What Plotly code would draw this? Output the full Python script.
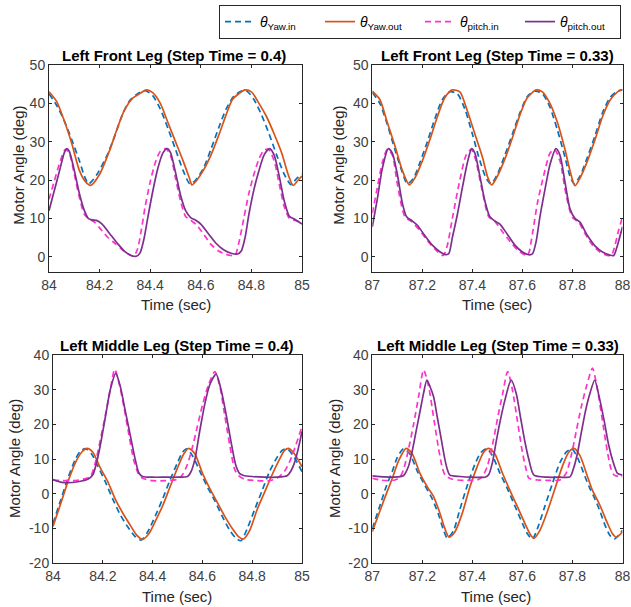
import plotly.graph_objects as go
from plotly.subplots import make_subplots

# ---- Left Front Leg, step time 0.4 ----
tl_yaw_in_t = [84.0, 84.03, 84.06, 84.09, 84.12, 84.14, 84.157, 84.19, 84.23, 84.26, 84.29, 84.32, 84.35, 84.38,
               84.41, 84.44, 84.47, 84.50, 84.53, 84.557, 84.58, 84.61, 84.64, 84.67, 84.70, 84.73, 84.76, 84.78,
               84.81, 84.84, 84.87, 84.90, 84.93, 84.957, 84.98, 85.0]
tl_yaw_in = [42.5, 39.5, 35.5, 30.5, 25, 21, 19, 21.5, 26.5, 31.5, 37, 40.8, 42.5, 43.3,
             42, 38.5, 33.5, 28, 22.5, 19, 20, 23, 28, 33.5, 38.5, 41.8, 43.2, 43.3,
             41, 37, 32, 26.5, 21.5, 18.8, 20.5, 21.5]
tl_yaw_out_t = [84.0, 84.03, 84.06, 84.09, 84.12, 84.145, 84.165, 84.2, 84.24, 84.27, 84.30, 84.33, 84.36, 84.385,
                84.41, 84.44, 84.47, 84.50, 84.53, 84.555, 84.565, 84.585, 84.61, 84.64, 84.67, 84.70, 84.725,
                84.75, 84.775, 84.80, 84.83, 84.86, 84.89, 84.92, 84.945, 84.965, 84.985, 85.0]
tl_yaw_out = [43, 40.5, 35.5, 29.5, 22.5, 19.5, 18.6, 21.5, 27.8, 33.5, 38.5, 41.3, 42.6, 43.5,
              42.8, 40, 35, 30, 25, 20.5, 18.7, 20, 22.5, 26.5, 31.5, 37, 41,
              42.5, 43.5, 43, 40, 36.5, 32, 27, 21.5, 18.6, 20, 21]
tl_pitch_in_t = [84.0, 84.02, 84.04, 84.065, 84.08, 84.10, 84.12, 84.14, 84.16, 84.18, 84.20, 84.23, 84.26, 84.29,
                 84.315, 84.335, 84.35, 84.365, 84.38, 84.40, 84.42, 84.44, 84.462, 84.48, 84.50, 84.52, 84.54,
                 84.56, 84.58, 84.61, 84.64, 84.67, 84.70, 84.72, 84.735, 84.75, 84.77, 84.79, 84.81, 84.83,
                 84.85, 84.868, 84.89, 84.91, 84.93, 84.95, 84.97, 85.0]
tl_pitch_in = [15, 19.5, 24, 28, 27, 21.5, 15.5, 11, 9.8, 9, 7.5, 5.2, 3.5, 1.8,
               0.6, 0.1, 2, 7, 13, 19.5, 24.5, 27.5, 28.2, 26.5, 20.5, 14.5, 10.5,
               9.5, 8.5, 6, 3.2, 1.5, 0.6, 0.3, 0.3, 3.5, 10, 16.5, 21.5, 25.5,
               27.8, 28, 25, 19, 13, 10, 9.5, 8.8]
tl_pitch_out_t = [84.0, 84.02, 84.04, 84.06, 84.07, 84.08, 84.10, 84.12, 84.14, 84.155, 84.17, 84.19, 84.21, 84.24,
                  84.27, 84.30, 84.325, 84.345, 84.36, 84.375, 84.39, 84.41, 84.43, 84.45, 84.467, 84.48, 84.50,
                  84.52, 84.54, 84.56, 84.58, 84.60, 84.63, 84.66, 84.69, 84.72, 84.745, 84.76, 84.775, 84.79,
                  84.81, 84.83, 84.85, 84.872, 84.89, 84.91, 84.93, 84.95, 84.97, 85.0]
tl_pitch_out = [12, 17, 22, 27, 28.2, 27.5, 22.5, 16.5, 12, 10, 9.6, 9.4, 8.5, 6,
                3.5, 1.3, 0.3, 0.1, 1, 4.5, 10, 17, 23, 27, 28.2, 27.2, 22,
                16, 12, 10.2, 9.5, 8.5, 6, 3.5, 1.8, 0.9, 0.7, 1.5, 5, 11,
                17.5, 22.5, 26.5, 28.2, 26.5, 21, 14.5, 10.5, 9.8, 8.5]

# ---- Left Front Leg, step time 0.33 ----
tr_yaw_in_t = [87.0, 87.03, 87.06, 87.09, 87.12, 87.14, 87.165, 87.19, 87.22, 87.25, 87.28, 87.31, 87.34, 87.37,
               87.40, 87.43, 87.455, 87.475, 87.50, 87.53, 87.56, 87.59, 87.62, 87.65, 87.68, 87.71, 87.74,
               87.77, 87.79, 87.807, 87.83, 87.86, 87.89, 87.92, 87.95, 87.98, 88.0]
tr_yaw_in = [42.8, 40, 34.5, 28, 22, 19, 20.5, 24.5, 30, 36, 41, 43, 42.5, 38.5,
             32, 25, 20.5, 19, 21.5, 26.5, 32, 37.5, 41.8, 43.2, 42.5, 39, 33,
             26, 21, 19, 21, 26, 31.5, 37.5, 41.5, 43.2, 43.5]
tr_yaw_out_t = [87.0, 87.03, 87.06, 87.09, 87.12, 87.148, 87.17, 87.20, 87.23, 87.26, 87.29, 87.32, 87.35, 87.38,
                87.41, 87.44, 87.46, 87.477, 87.50, 87.53, 87.56, 87.59, 87.62, 87.655, 87.68, 87.71, 87.74,
                87.77, 87.79, 87.81, 87.83, 87.86, 87.89, 87.92, 87.95, 87.98, 88.0]
tr_yaw_out = [43.2, 41, 35, 29, 22.5, 18.7, 20.5, 25, 30.5, 36.5, 41.5, 43.5, 43, 38,
              32, 26, 21, 18.7, 21, 25.5, 31, 37, 41.5, 43.5, 43, 40, 35,
              28, 22.5, 18.5, 20.5, 25, 30.5, 36.5, 40.8, 43, 43.6]
tr_pitch_in_t = [87.0, 87.02, 87.04, 87.06, 87.08, 87.10, 87.13, 87.16, 87.19, 87.22, 87.25, 87.283, 87.30, 87.32,
                 87.35, 87.375, 87.395, 87.41, 87.44, 87.465, 87.49, 87.52, 87.55, 87.58, 87.62, 87.64, 87.66,
                 87.69, 87.71, 87.728, 87.75, 87.775, 87.80, 87.825, 87.85, 87.88, 87.91, 87.935, 87.955, 87.97,
                 87.985, 88.0]
tr_pitch_in = [11.3, 18, 24.5, 28, 26.5, 19, 10.5, 9, 6.8, 4.2, 2, 0.3, 3, 10,
               20, 26.5, 28, 26, 17, 10.5, 9.2, 6.5, 4, 1.8, 0.3, 6, 14,
               22.5, 27, 28, 25, 16, 10.2, 9, 6, 3, 1.2, 0.4, 0.3, 3,
               7, 10.3]
tr_pitch_out_t = [87.0, 87.02, 87.04, 87.064, 87.08, 87.10, 87.12, 87.137, 87.16, 87.18, 87.21, 87.24, 87.27, 87.29,
                  87.305, 87.32, 87.34, 87.36, 87.38, 87.397, 87.41, 87.43, 87.45, 87.47, 87.49, 87.51, 87.54,
                  87.57, 87.60, 87.625, 87.64, 87.655, 87.67, 87.69, 87.71, 87.734, 87.75, 87.77, 87.79, 87.81,
                  87.83, 87.86, 87.89, 87.92, 87.95, 87.965, 87.98, 88.0]
tr_pitch_out = [7.8, 15, 23, 28.2, 27, 21.5, 14, 10.4, 9.3, 8.2, 5.5, 3, 1.3, 0.6,
                0.7, 5, 11, 18, 24.5, 28.2, 27, 21, 14.5, 10.4, 9.3, 8.5, 5.8,
                3, 1.2, 0.5, 0.7, 4, 10.4, 17.5, 24, 28.2, 26.5, 19.5, 12.5, 10,
                9, 5.5, 2.8, 1.2, 0.4, 0.3, 3, 7.8]

# ---- Left Middle Leg, step time 0.4 ----
bl_yaw_in_t = [84.0, 84.03, 84.06, 84.09, 84.11, 84.13, 84.155, 84.18, 84.21, 84.24, 84.27, 84.30, 84.33, 84.355,
               84.38, 84.41, 84.44, 84.47, 84.50, 84.52, 84.537, 84.56, 84.59, 84.62, 84.65, 84.68, 84.71,
               84.735, 84.755, 84.78, 84.81, 84.84, 84.87, 84.90, 84.92, 84.94, 84.965, 85.0]
bl_yaw_in = [-8.5, -2, 4.5, 10, 12.3, 13, 11.5, 8, 3.5, -1.5, -6, -9.5, -12.3, -13.3,
             -11, -6.5, -1.5, 4, 9, 12, 13, 11, 6.5, 2, -2, -6.5, -10.5,
             -12.8, -13.5, -10, -4.5, 1, 6.5, 10.5, 12.5, 13, 11, 6.4]
bl_yaw_out_t = [84.0, 84.03, 84.06, 84.09, 84.115, 84.137, 84.16, 84.19, 84.22, 84.25, 84.28, 84.31, 84.335, 84.36,
                84.385, 84.41, 84.44, 84.47, 84.50, 84.525, 84.545, 84.57, 84.60, 84.63, 84.66, 84.69, 84.72,
                84.745, 84.765, 84.79, 84.82, 84.85, 84.88, 84.91, 84.93, 84.946, 84.97, 85.0]
bl_yaw_out = [-9.4, -3, 3.5, 9, 12, 13.1, 12, 7.5, 3.5, -1.5, -5.5, -9, -11.8, -13.1,
              -11.5, -8, -3.5, 2, 7.5, 11.5, 13.1, 11.5, 6, 1.5, -2.5, -6.5, -10,
              -12.3, -13, -10.5, -4.5, 0.5, 5.5, 10, 12.5, 13.1, 11.5, 7.8]
bl_pitch_in_t = [84.0, 84.04, 84.08, 84.12, 84.15, 84.17, 84.19, 84.21, 84.23, 84.248, 84.265, 84.285, 84.305, 84.325,
                 84.345, 84.36, 84.40, 84.45, 84.50, 84.52, 84.54, 84.56, 84.58, 84.60, 84.625, 84.65, 84.67,
                 84.69, 84.71, 84.73, 84.745, 84.77, 84.82, 84.87, 84.90, 84.93, 84.955, 84.975, 85.0]
bl_pitch_in = [4, 3.8, 3.8, 4.2, 5, 9, 15.5, 22.5, 30, 35.9, 32, 25, 17, 9.5,
               5.5, 4.5, 3.8, 3.8, 4.2, 5.5, 8.5, 13.5, 19.5, 25.5, 31.5, 35.2, 31,
               22.5, 14, 7, 5.3, 4.2, 3.8, 3.8, 4.5, 6.5, 10, 14, 19.4]
bl_pitch_out_t = [84.0, 84.03, 84.06, 84.10, 84.14, 84.16, 84.175, 84.19, 84.21, 84.23, 84.252, 84.27, 84.29, 84.31,
                  84.33, 84.345, 84.36, 84.40, 84.45, 84.50, 84.54, 84.555, 84.57, 84.59, 84.61, 84.63, 84.655,
                  84.675, 84.695, 84.715, 84.735, 84.75, 84.765, 84.80, 84.85, 84.90, 84.94, 84.955, 84.97,
                  84.985, 85.0]
bl_pitch_out = [4.1, 3.4, 3.2, 3.5, 4.2, 5.5, 9, 14, 22, 30, 34.7, 31, 24, 17,
                10, 6, 5, 4.8, 4.8, 4.8, 5, 6.5, 10, 18.4, 26, 31.5, 34.5,
                30, 23, 15, 8, 5.8, 5.3, 5, 4.8, 4.8, 5.2, 6.5, 9,
                13, 18]

# ---- Left Middle Leg, step time 0.33 ----
br_yaw_in_t = [87.0, 87.03, 87.055, 87.08, 87.10, 87.125, 87.15, 87.18, 87.21, 87.24, 87.265, 87.285, 87.30, 87.325,
               87.35, 87.38, 87.41, 87.435, 87.458, 87.48, 87.51, 87.54, 87.57, 87.60, 87.62, 87.64, 87.66,
               87.69, 87.72, 87.75, 87.775, 87.797, 87.82, 87.85, 87.87, 87.89, 87.91, 87.93, 87.95, 87.967, 88.0]
br_yaw_in = [-10, -3.5, 2, 6.5, 10.5, 13, 11.5, 6.5, 2.5, -1.5, -6, -10.5, -12.8, -10.5,
             -4.5, 2.5, 8.5, 12, 13, 11, 6, 1.5, -3.5, -8.5, -11.5, -13, -10,
             -3.5, 3, 9, 12, 13, 10.5, 5, 1.5, -1.5, -5, -9, -12, -13, -10.5]
br_yaw_out_t = [87.0, 87.03, 87.057, 87.08, 87.105, 87.135, 87.16, 87.19, 87.22, 87.245, 87.27, 87.29, 87.307, 87.33,
                87.36, 87.39, 87.42, 87.445, 87.465, 87.49, 87.52, 87.55, 87.58, 87.61, 87.63, 87.646, 87.67,
                87.70, 87.73, 87.76, 87.785, 87.806, 87.83, 87.86, 87.88, 87.90, 87.92, 87.94, 87.96, 87.975, 88.0]
br_yaw_out = [-10.9, -5, 0.2, 4.5, 9.5, 13.1, 11.5, 6, 2, -0.8, -5.5, -10, -12.5, -11,
              -5.5, 2, 8, 12, 13.1, 11.5, 6, 1, -3.7, -8.5, -11.5, -12.8, -10.5,
              -5, 1.5, 8, 12, 13.1, 11, 5, 1, -1.8, -5, -8.5, -11.5, -12.5, -10.9]
br_pitch_in_t = [87.0, 87.03, 87.06, 87.09, 87.11, 87.125, 87.145, 87.165, 87.185, 87.205, 87.225, 87.245, 87.265,
                 87.28, 87.291, 87.32, 87.37, 87.42, 87.44, 87.46, 87.48, 87.50, 87.52, 87.541, 87.56, 87.58,
                 87.60, 87.615, 87.626, 87.66, 87.71, 87.75, 87.775, 87.795, 87.815, 87.835, 87.858, 87.88,
                 87.90, 87.92, 87.94, 87.955, 87.967, 87.985, 88.0]
br_pitch_in = [4.5, 4, 3.8, 4, 4.8, 7, 13, 20, 28, 35.7, 31, 22, 13,
               7.5, 5.4, 4.2, 3.9, 4, 5, 8, 14, 21.5, 28.5, 35.2, 30, 21,
               12, 7, 4.5, 4, 3.9, 4, 6, 11, 18, 25, 31.5, 36.2,
               30, 21, 12, 7, 5.4, 5, 5]
br_pitch_out_t = [87.0, 87.05, 87.10, 87.124, 87.144, 87.16, 87.175, 87.19, 87.205, 87.218, 87.23, 87.245, 87.26,
                  87.275, 87.29, 87.30, 87.31, 87.35, 87.40, 87.45, 87.465, 87.48, 87.495, 87.512, 87.53, 87.555,
                  87.575, 87.592, 87.61, 87.626, 87.646, 87.70, 87.75, 87.79, 87.805, 87.82, 87.835, 87.853,
                  87.87, 87.889, 87.905, 87.926, 87.945, 87.96, 87.98, 88.0]
br_pitch_out = [5.2, 4.9, 4.9, 5.2, 7.8, 12.5, 18, 23.5, 29, 32.8, 31, 28, 22,
                16, 10, 7, 5.4, 5, 4.8, 4.8, 5.5, 9, 15, 21.3, 27, 32.8,
                29, 22.2, 15, 9.8, 5.4, 4.8, 4.8, 4.9, 7.5, 11.7, 17.5, 24.2,
                29, 32.8, 28.5, 21.3, 14, 9.8, 5.9, 5.4]

titles = ["Left Front Leg (Step Time = 0.4)", "Left Front Leg (Step Time = 0.33)",
          "Left Middle Leg (Step Time = 0.4)", "Left Middle Leg (Step Time = 0.33)"]
x_ticks_a = [84, 84.2, 84.4, 84.6, 84.8, 85]
x_ticks_b = [87, 87.2, 87.4, 87.6, 87.8, 88]
x_labels_a = ["84", "84.2", "84.4", "84.6", "84.8", "85"]
x_labels_b = ["87", "87.2", "87.4", "87.6", "87.8", "88"]
y_ticks_top = [0, 10, 20, 30, 40, 50]
y_labels_top = ["0", "10", "20", "30", "40", "50"]
y_ticks_bottom = [-20, -10, 0, 10, 20, 30, 40]
y_labels_bottom = ["-20", "-10", "0", "10", "20", "30", "40"]
names = ["<i>θ</i><sub>Yaw.in</sub>", "<i>θ</i><sub>Yaw.out</sub>",
         "<i>θ</i><sub>pitch.in</sub>", "<i>θ</i><sub>pitch.out</sub>"]

colors = ['#0072BD', '#D95319', '#FF33CC', '#7E2F8E']
dashes = ['6px,4px', 'solid', '6px,4px', 'solid']

panels = [
    (1, 1, [(tl_yaw_in_t, tl_yaw_in), (tl_yaw_out_t, tl_yaw_out), (tl_pitch_in_t, tl_pitch_in), (tl_pitch_out_t, tl_pitch_out)]),
    (1, 2, [(tr_yaw_in_t, tr_yaw_in), (tr_yaw_out_t, tr_yaw_out), (tr_pitch_in_t, tr_pitch_in), (tr_pitch_out_t, tr_pitch_out)]),
    (2, 1, [(bl_yaw_in_t, bl_yaw_in), (bl_yaw_out_t, bl_yaw_out), (bl_pitch_in_t, bl_pitch_in), (bl_pitch_out_t, bl_pitch_out)]),
    (2, 2, [(br_yaw_in_t, br_yaw_in), (br_yaw_out_t, br_yaw_out), (br_pitch_in_t, br_pitch_in), (br_pitch_out_t, br_pitch_out)]),
]

W, H = 631, 607


def fx(px):
    return px / W


def fy(py):
    return 1 - py / H


fig = make_subplots(rows=2, cols=2)

for k, (r, c, series) in enumerate(panels):
    for i, (t, y) in enumerate(series):
        fig.add_trace(go.Scatter(
            x=t, y=y, mode='lines', name=names[i],
            line=dict(color=colors[i], dash=dashes[i], width=1.7, shape='spline', smoothing=0.7),
            showlegend=(k == 0)
        ), row=r, col=c)

font_family = "Liberation Sans, Arial, sans-serif"
axis_style = dict(showgrid=False, zeroline=False, showline=True, mirror='ticks',
                  linecolor='#262626', linewidth=1, ticks='inside', ticklen=3,
                  tickcolor='#262626', tickfont=dict(size=14, color='#404040'),
                  automargin=False, ticklabeloverflow='allow')

xd_left = [fx(49), fx(302)]
xd_left_b = [fx(53), fx(302)]
xd_right = [fx(372.3), fx(622.5)]
yd_top = [fy(272), fy(65)]
yd_bot = [fy(563.3), fy(355)]

fig.update_layout(
    xaxis=dict(domain=xd_left, range=[84, 85], tickvals=x_ticks_a, ticktext=x_labels_a, **axis_style),
    xaxis2=dict(domain=xd_right, range=[87, 88], tickvals=x_ticks_b, ticktext=x_labels_b, **axis_style),
    xaxis3=dict(domain=xd_left_b, range=[84, 85], tickvals=x_ticks_a, ticktext=x_labels_a, **axis_style),
    xaxis4=dict(domain=xd_right, range=[87, 88], tickvals=x_ticks_b, ticktext=x_labels_b, **axis_style),
    yaxis=dict(domain=yd_top, range=[-4, 50], tickvals=y_ticks_top, ticktext=y_labels_top, **axis_style),
    yaxis2=dict(domain=yd_top, range=[-4, 50], tickvals=y_ticks_top, ticktext=y_labels_top, **axis_style),
    yaxis3=dict(domain=yd_bot, range=[-20, 40], tickvals=y_ticks_bottom, ticktext=y_labels_bottom, **axis_style),
    yaxis4=dict(domain=yd_bot, range=[-20, 40], tickvals=y_ticks_bottom, ticktext=y_labels_bottom, **axis_style),
)

title_pos = [(174, 55), (497, 55), (176.7, 345), (497.5, 345)]
for txt, (px, py) in zip(titles, title_pos):
    fig.add_annotation(text="<b>" + txt + "</b>", x=fx(px), y=fy(py), xref='paper', yref='paper',
                       showarrow=False, font=dict(size=15, color='#000000'),
                       xanchor='center', yanchor='middle')

xtitle_pos = [(175.7, 304), (497.3, 304), (176.7, 596), (496.3, 596)]
for px, py in xtitle_pos:
    fig.add_annotation(text="Time (sec)", x=fx(px), y=fy(py), xref='paper', yref='paper',
                       showarrow=False, font=dict(size=15, color='#262626'),
                       xanchor='center', yanchor='middle')

ytitle_pos = [(19, 165.7), (339, 165.7), (15, 459), (335, 459)]
for px, py in ytitle_pos:
    fig.add_annotation(text="Motor Angle (deg)", x=fx(px), y=fy(py), xref='paper', yref='paper',
                       showarrow=False, textangle=-90, font=dict(size=15, color='#262626'),
                       xanchor='center', yanchor='middle')

fig.update_layout(
    width=W, height=H,
    margin=dict(l=0, r=0, t=0, b=0, autoexpand=False),
    paper_bgcolor='white', plot_bgcolor='white',
    font=dict(family=font_family, color='#262626'),
    legend=dict(orientation='h', x=fx(621), xanchor='right', y=fy(5), yanchor='top',
                bordercolor='#262626', borderwidth=1, bgcolor='white',
                entrywidth=55, entrywidthmode='pixels',
                font=dict(size=14, color='#000000'), tracegroupgap=0),
)

# drop the default 8px page margin so the figure fills the window exactly
fig.write_html("out.html", config={'displayModeBar': False},
               post_script="document.body.style.margin='0';")
